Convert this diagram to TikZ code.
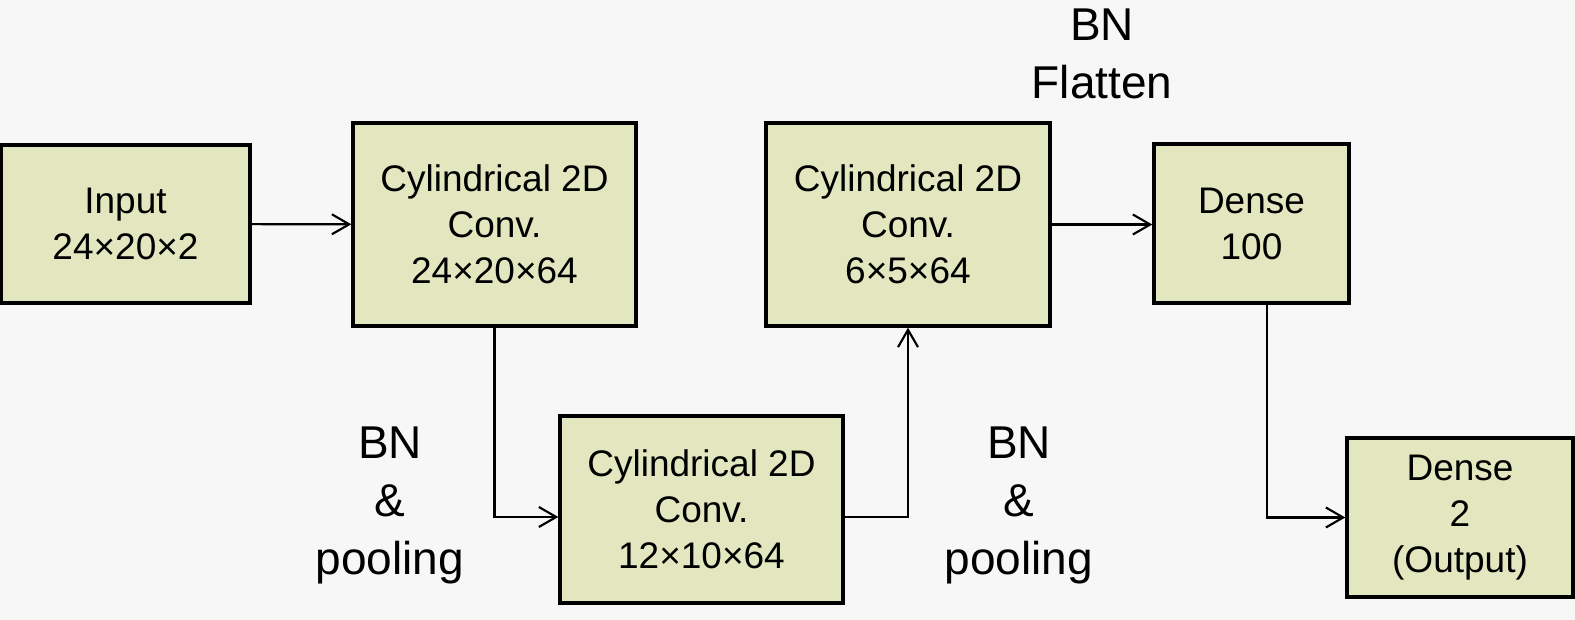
\documentclass[tikz,border=0pt]{standalone}
\usepackage{fontspec}
\setmainfont{Liberation Sans}
\usetikzlibrary{arrows.meta,calc}
\definecolor{bgcol}{RGB}{247,247,247}
\definecolor{boxcol}{RGB}{227,231,191}
\begin{document}
\begin{tikzpicture}[x=0.75pt,y=0.75pt,yscale=-1,xscale=1,
    layer/.style={draw=black,line width=2.5pt,fill=boxcol,align=center,inner sep=0pt,
        font=\fontsize{27.75}{34.5}\selectfont},
    note/.style={align=center,inner sep=0pt,font=\fontsize{34.5}{43.5}\selectfont},
    flow/.style={line width=1.6pt,-{Straight Barb[length=13pt,width=15pt,line width=1.6pt]}}]
            \useasboundingbox[fill=bgcol] (0,0) rectangle (1575,620);
            % Layers
            \node [layer,minimum width=186.75pt,minimum height=118.5pt] (input) at (125.5,224) {Input\\24×20×2};
            \node [layer,minimum width=212.25pt,minimum height=152.25pt] (conv1) at (494.5,224.5) {Cylindrical 2D\\Conv.\\24×20×64};
            \node [layer,minimum width=212.25pt,minimum height=140.25pt] (conv2) at (701.5,509.5) {Cylindrical 2D\\Conv.\\12×10×64};
            \node [layer,minimum width=213pt,minimum height=152.25pt] (conv3) at (908,224.5) {Cylindrical 2D\\Conv.\\6×5×64};
            \node [layer,minimum width=146.25pt,minimum height=119.25pt] (dense1) at (1251.5,223.5) {Dense\\100};
            \node [layer,minimum width=169.5pt,minimum height=119.25pt] (dense2) at (1460,517.5) {Dense\\2\\(Output)};
            % Text Node
            \node [note] (pool1) at (390,505) {BN\\\&\\pooling};
            \node [note] (pool2) at (1019,505) {BN\\\&\\pooling};
            \node [note] (flat) at (1102,54) {BN\\Flatten};
            % Connectors
            \draw [flow] (input) -- (conv1);
            \draw [flow] (conv1.south) |- ($(conv2.west)+(0,7.5)$);
            \draw [flow] ($(conv2.east)+(0,7.5)$) -| (conv3.south);
            \draw [flow] (conv3.east) -- (conv3.east -| dense1.west);
            \draw [flow] ($(dense1.south)+(15.5,0)$) |- (dense2.west);
        \end{tikzpicture}
\end{document}
